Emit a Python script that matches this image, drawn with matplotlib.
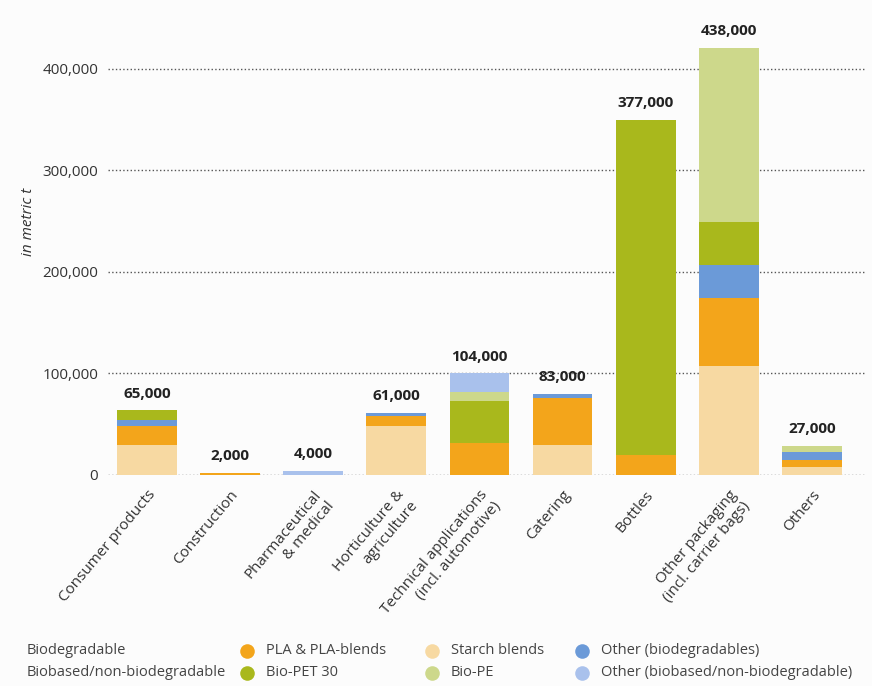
import matplotlib
matplotlib.use("Agg")
import matplotlib.pyplot as plt
import numpy as np
from matplotlib.ticker import FuncFormatter

plt.rcParams['font.family'] = ['Open Sans', 'DejaVu Sans']

# categories and stacked segments (in metric t)
categories = ['Consumer products', 'Construction', 'Pharmaceutical\n& medical',
              'Horticulture &\nagriculture', 'Technical applications\n(incl. automotive)',
              'Catering', 'Bottles', 'Other packaging\n(incl. carrier bags)', 'Others']
totals = ['65,000', '2,000', '4,000', '61,000', '104,000', '83,000', '377,000', '438,000', '27,000']

starch      = [30000, 0, 0, 48600, 0, 29600, 0, 107000, 8000]
pla         = [18000, 2000, 0, 9500, 32000, 46000, 20000, 67000, 7000]
other_bio   = [6600, 0, 0, 3000, 0, 4000, 0, 33000, 8000]
bio_pet     = [9000, 0, 0, 0, 41000, 0, 330000, 42000, 0]
bio_pe      = [0, 0, 0, 0, 9000, 0, 0, 172000, 6000]
other_based = [0, 0, 4000, 0, 18000, 0, 0, 0, 0]

series = [
    ('Starch blends', starch, '#F7D9A2'),
    ('PLA & PLA-blends', pla, '#F3A51B'),
    ('Other (biodegradables)', other_bio, '#6B9AD8'),
    ('Bio-PET 30', bio_pet, '#A9B81C'),
    ('Bio-PE', bio_pe, '#CDD88B'),
    ('Other (biobased/non-biodegradable)', other_based, '#A9C1EC'),
]

W, H = 872, 686
fig = plt.figure(figsize=(W / 100, H / 100), dpi=100, facecolor='#fcfcfc')
ax = fig.add_axes([108 / W, 1 - 475 / H, (865 - 108) / W, (475 - 8) / H])
ax.set_facecolor('#fcfcfc')

x = np.arange(len(categories))
bottom = np.zeros(len(categories))
for name, vals, color in series:
    vals = np.array(vals, dtype=float)
    ax.bar(x, vals, bottom=bottom, width=0.72, color=color, linewidth=0, zorder=3)
    bottom += vals

for xi, top, lab in zip(x, bottom, totals):
    ax.annotate(lab, (xi, top), xytext=(0, 7), textcoords='offset points',
                ha='center', va='bottom', fontsize=11, fontweight='bold', color='#222222')

ax.set_xlim(-0.47, 8.64)
ax.set_ylim(0, 460000)
ax.set_yticks([0, 100000, 200000, 300000, 400000])
ax.yaxis.set_major_formatter(FuncFormatter(lambda v, p: f'{int(v):,}'))
ax.grid(axis='y', linestyle=':', color='#555555', linewidth=1.0, zorder=0)
ax.tick_params(axis='y', length=0, pad=7, labelsize=11, labelcolor='#333333')
ax.tick_params(axis='x', length=0, pad=9)
ax.set_xticks(x)
ax.set_xticklabels(categories, rotation=50, ha='right', rotation_mode='anchor',
                   fontsize=11, color='#333333', multialignment='right')
for s in ax.spines.values():
    s.set_visible(False)

fig.text(28 / W, 1 - 222 / H, 'in metric t', rotation=90, ha='center', va='center',
         fontsize=11, style='italic', color='#333333')

# legend drawn in pixel coordinates
lax = fig.add_axes([0, 0, 1, 1])
lax.set_xlim(0, W)
lax.set_ylim(H, 0)
lax.axis('off')
lax.patch.set_alpha(0)
lax.text(27, 651, 'Biodegradable', va='center', fontsize=10.5, color='#444444')
lax.text(27, 673, 'Biobased/non-biodegradable', va='center', fontsize=10.5, color='#444444')
legend_pos = [
    ('PLA & PLA-blends', '#F3A51B', 247, 651),
    ('Starch blends', '#F7D9A2', 432, 651),
    ('Other (biodegradables)', '#6B9AD8', 582, 651),
    ('Bio-PET 30', '#A9B81C', 247, 673),
    ('Bio-PE', '#CDD88B', 432, 673),
    ('Other (biobased/non-biodegradable)', '#A9C1EC', 582, 673),
]
for name, color, lx, ly in legend_pos:
    lax.scatter([lx], [ly], s=110, color=color, linewidths=0)
    lax.text(lx + 19, ly, name, va='center', fontsize=10.5, color='#444444')

fig.savefig('out.png', dpi=100, facecolor=fig.get_facecolor())
